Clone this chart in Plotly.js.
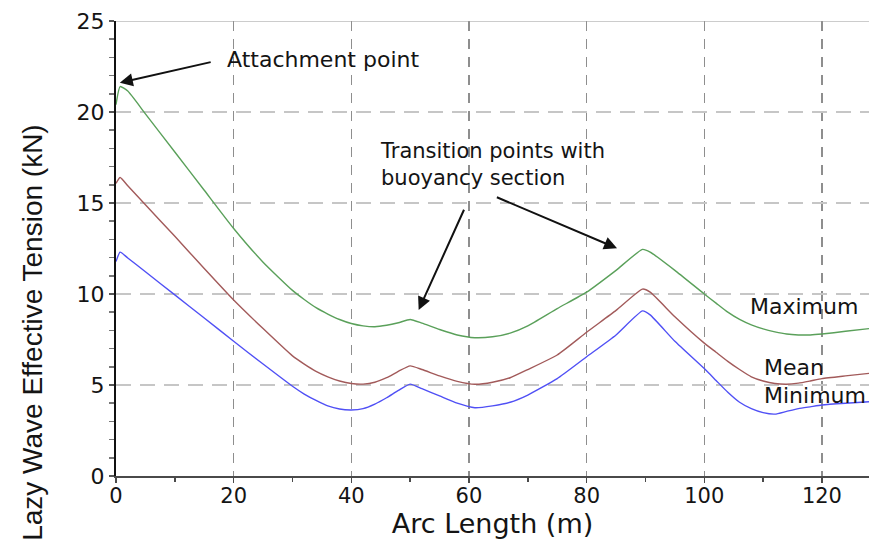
<!DOCTYPE html>
<html>
<head>
<meta charset="utf-8">
<script src="https://cdn.plot.ly/plotly-3.0.1.min.js"></script>
<style>html,body{margin:0;padding:0;background:#fff;}#chart{width:869px;height:551px;}</style>
</head>
<body>
<div id="chart"></div>
<script>
// Arc length (m)
const arcLength = [0, 0.7, 2, 5, 10, 15, 20, 25, 30, 32, 34, 36, 38, 40, 42, 44, 46, 48, 50, 52, 55, 58, 61, 64, 67, 70, 75, 80, 85, 89.5, 90.8, 95, 100, 102, 104, 106, 108, 110, 112, 114, 116, 118, 120, 124, 128];
// Effective tension (kN)
const maximumTension = [20.4, 21.4, 21.15, 19.9, 17.8, 15.7, 13.6, 11.75, 10.2, 9.7, 9.25, 8.9, 8.6, 8.38, 8.25, 8.2, 8.28, 8.42, 8.6, 8.4, 8.05, 7.75, 7.6, 7.65, 7.85, 8.25, 9.2, 10.1, 11.3, 12.45, 12.3, 11.3, 10.0, 9.5, 9.0, 8.6, 8.3, 8.08, 7.92, 7.8, 7.75, 7.75, 7.8, 7.95, 8.1];
const meanTension = [16.08, 16.4, 15.95, 14.9, 13.17, 11.4, 9.67, 8.1, 6.6, 6.15, 5.75, 5.45, 5.22, 5.08, 5.05, 5.15, 5.4, 5.75, 6.05, 5.85, 5.5, 5.2, 5.04, 5.15, 5.4, 5.85, 6.65, 7.9, 9.1, 10.27, 10.1, 8.75, 7.3, 6.8, 6.3, 5.85, 5.45, 5.22, 5.08, 5.04, 5.1, 5.22, 5.35, 5.5, 5.64];
const minimumTension = [11.78, 12.3, 11.98, 11.22, 9.95, 8.68, 7.4, 6.15, 4.93, 4.5, 4.15, 3.85, 3.68, 3.63, 3.7, 3.95, 4.3, 4.7, 5.05, 4.8, 4.4, 4.0, 3.75, 3.85, 4.05, 4.45, 5.35, 6.55, 7.75, 9.07, 8.85, 7.4, 5.9, 5.25, 4.6, 4.05, 3.7, 3.48, 3.4, 3.55, 3.7, 3.8, 3.9, 4.0, 4.08];
const seriesNames = ["Maximum", "Mean", "Minimum"];
const xTicks = [0, 20, 40, 60, 80, 100, 120];
const yTicks = [0, 5, 10, 15, 20, 25];

const textFont = {family: "DejaVu Sans, Arial, sans-serif", size: 22, color: "#141414"};
const lineShape = {shape: "spline", smoothing: 0.5, width: 1.4};

const traces = [
  {x: arcLength, y: maximumTension, name: seriesNames[0], mode: "lines", line: Object.assign({color: "#5aa05a"}, lineShape)},
  {x: arcLength, y: meanTension, name: seriesNames[1], mode: "lines", line: Object.assign({color: "#a25a5a"}, lineShape)},
  {x: arcLength, y: minimumTension, name: seriesNames[2], mode: "lines", line: Object.assign({color: "#5050f5"}, lineShape)}
];

const layout = {
  width: 869, height: 551,
  margin: {l: 115.5, r: 0, t: 21, b: 75},
  paper_bgcolor: "#ffffff", plot_bgcolor: "#ffffff",
  showlegend: false,
  xaxis: {
    range: [0, 128], tickvals: xTicks, ticktext: xTicks.map(String),
    showgrid: true, gridcolor: "#8e8e8e", gridwidth: 1.5, griddash: "10px,8px",
    zeroline: false, showline: true, linecolor: "#4a4a4a", linewidth: 2,
    ticks: "outside", ticklen: 5, tickcolor: "#4a4a4a", tickwidth: 1.5,
    minor: {dtick: 10, ticks: "outside", ticklen: 4, tickcolor: "#4a4a4a", showgrid: false},
    ticklabelstandoff: -5,
    tickfont: {family: "DejaVu Sans, Arial, sans-serif", size: 21, color: "#141414"},
    title: {text: "Arc Length (m)", font: {family: "DejaVu Sans, Arial, sans-serif", size: 27, color: "#141414"}, standoff: 0}
  },
  yaxis: {
    range: [0, 25], tickvals: yTicks, ticktext: yTicks.map(String),
    showgrid: true, gridcolor: "#c6c6c6", gridwidth: 2, griddash: "15px,9px",
    zeroline: false, showline: true, linecolor: "#111111", linewidth: 2,
    ticks: "outside", ticklen: 5, tickcolor: "#555555", tickwidth: 1.5,
    minor: {dtick: 1, ticks: "outside", ticklen: 5, tickcolor: "#777777", showgrid: false},
    tickfont: {family: "DejaVu Sans, Arial, sans-serif", size: 22, color: "#141414"}
  },
  shapes: [
    {type: "line", xref: "paper", yref: "y", x0: 0, x1: 1, y0: 25, y1: 25, line: {color: "#999999", width: 1.2}}
  ],
  annotations: [
    {xref: "paper", yref: "paper", x: -0.11, y: 0.315, xanchor: "center", yanchor: "middle", textangle: -90, showarrow: false,
     text: "Lazy Wave Effective Tension (kN)", font: {family: "Liberation Sans, Arial, sans-serif", size: 28, color: "#141414"}},
    {xref: "x", yref: "y", x: 18.6, y: 22.86, xanchor: "left", yanchor: "middle", showarrow: false, text: "Attachment point", font: textFont},
    {xref: "x", yref: "y", x: 44.6, y: 17.09, xanchor: "left", yanchor: "middle", align: "left", showarrow: false,
     text: "Transition points with<br>buoyancy section", font: {family: "DejaVu Sans, Arial, sans-serif", size: 21, color: "#141414"}},
    {xref: "x", yref: "y", x: 117, y: 9.29, xanchor: "center", yanchor: "middle", showarrow: false, text: seriesNames[0], font: textFont},
    {xref: "x", yref: "y", x: 115.3, y: 5.96, xanchor: "center", yanchor: "middle", showarrow: false, text: seriesNames[1], font: textFont},
    {xref: "x", yref: "y", x: 118.9, y: 4.40, xanchor: "center", yanchor: "middle", showarrow: false, text: seriesNames[2], font: textFont},
    {xref: "x", yref: "y", axref: "x", ayref: "y", x: 0.65, y: 21.61, ax: 16.35, ay: 22.76, text: "", showarrow: true, arrowhead: 2, arrowsize: 1.3, arrowwidth: 2, arrowcolor: "#111111"},
    {xref: "x", yref: "y", axref: "x", ayref: "y", x: 51.45, y: 9.12, ax: 59.27, ay: 14.71, text: "", showarrow: true, arrowhead: 2, arrowsize: 1.3, arrowwidth: 2, arrowcolor: "#111111"},
    {xref: "x", yref: "y", axref: "x", ayref: "y", x: 85.17, y: 12.51, ax: 64.49, ay: 15.35, text: "", showarrow: true, arrowhead: 2, arrowsize: 1.3, arrowwidth: 2, arrowcolor: "#111111"}
  ]
};

Plotly.newPlot("chart", traces, layout, {displayModeBar: false, staticPlot: true});
</script>
</body>
</html>
